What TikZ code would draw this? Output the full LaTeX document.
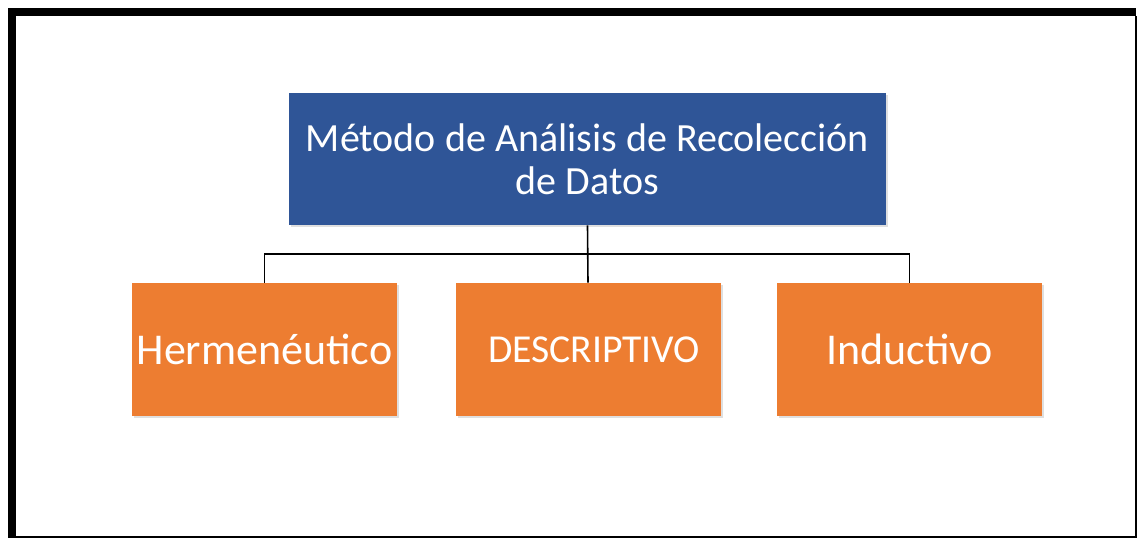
\documentclass[tikz,border=0pt]{standalone}
\usepackage{fontspec}
\setmainfont{Carlito}
\usetikzlibrary{shadows}
\definecolor{boxblue}{HTML}{2F5597}
\definecolor{boxorange}{HTML}{ED7D31}

\begin{document}
\begin{tikzpicture}[x=0.5pt, y=-0.5pt,
	box/.style={rectangle, inner sep=0pt, text=white, align=center, drop shadow={shadow xshift=1.2pt, shadow yshift=-1.2pt, opacity=0.25}},
	topbox/.style={box, fill=boxblue, minimum width=298.5pt, minimum height=66pt, font=\fontsize{20}{21.5}\selectfont},
	subbox/.style={box, fill=boxorange, minimum width=132.5pt, minimum height=66.5pt, font=\fontsize{22}{25}\selectfont},
	link/.style={draw=black, line width=0.8pt}]
				\useasboundingbox (0,0) rectangle (1137,539);
				\fill[black] (8,8) rectangle (1136,16);
				\fill[black] (8,8) rectangle (16,538);
				\draw[line width=1pt] (16,537.5) -- (1135.5,537.5) -- (1135.5,16);
				
				\node[topbox] (metodo) at (587.5,159){Método de Análisis de Recolección\\de Datos};
				
				\node[subbox] (herm) at (264.5,349.5){Hermenéutico};
				\node[subbox, font=\fontsize{19.8}{22}\selectfont] (desc) at (588,349.5){\hspace*{6pt}DESCRIPTIVO};
				\node[subbox] (induc) at (909.5,349.5){Inductivo};
				
				\coordinate (bus) at (588,254);
				
				\path[link] (metodo.south) edge (desc.north);
				\draw[link] (herm.north) |- (bus) -| (induc.north);
				\end{tikzpicture}
\end{document}
